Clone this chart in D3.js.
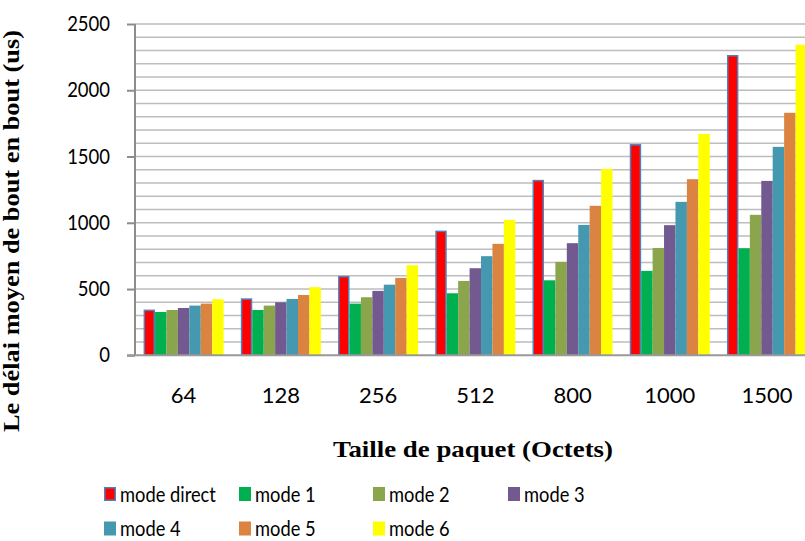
<!DOCTYPE html>
<html>
<head>
<meta charset="utf-8">
<script src="https://cdn.jsdelivr.net/npm/d3@7"></script>
<style>
  html, body { margin: 0; padding: 0; background: #fff; }
  svg { display: block; }
</style>
</head>
<body>
<svg id="chart" width="805" height="541"></svg>
<script>
// Packet sizes (octets)
const categories = ["64", "128", "256", "512", "800", "1000", "1500"];

// Mean end-to-end delay (us) per mode
const seriesNames = ["mode direct", "mode 1", "mode 2", "mode 3", "mode 4", "mode 5", "mode 6"];
const modeDirect = [345, 430, 599, 941, 1324, 1594, 2266];
const mode1 = [327, 342, 390, 468, 566, 637, 808];
const mode2 = [342, 375, 438, 561, 705, 810, 1060];
const mode3 = [357, 400, 486, 657, 846, 982, 1316];
const mode4 = [375, 425, 533, 748, 984, 1158, 1573];
const mode5 = [390, 455, 584, 841, 1128, 1329, 1830];
const mode6 = [423, 514, 680, 1022, 1407, 1671, 2344];
const yTicks = [0, 500, 1000, 1500, 2000, 2500];

const seriesValues = [modeDirect, mode1, mode2, mode3, mode4, mode5, mode6];
const colors = ["#ff0000", "#00b050", "#8aa54b", "#725990", "#4498b0", "#db8340", "#ffff00"];

const svg = d3.select("#chart");
const plotLeft = 135, plotRight = 815.6, plotTop = 24, plotBottom = 355.3;

const x = d3.scaleBand().domain(categories).range([plotLeft, plotRight])
  .paddingInner(0.177).paddingOuter(0.0885);
const xs = d3.scaleBand().domain(seriesNames).range([0, x.bandwidth()]);
const y = d3.scaleLinear().domain([0, 2500]).range([plotBottom, plotTop]);

// Gridlines every 100 us
const grid = d3.range(100, 2501, 100);
svg.append("g").selectAll("line").data(grid).join("line")
  .attr("x1", plotLeft).attr("x2", 805)
  .attr("y1", d => y(d)).attr("y2", d => y(d))
  .attr("stroke", "#bdbdbd").attr("stroke-width", 1.6);

// Bars
const groups = svg.append("g").selectAll("g").data(categories).join("g")
  .attr("transform", d => `translate(${x(d)},0)`);
groups.selectAll("rect")
  .data((c, i) => seriesNames.map((s, k) => ({ s, k, v: seriesValues[k][i] })))
  .join("rect")
  .attr("x", d => xs(d.s) + (d.k === 0 ? 0.75 : 0))
  .attr("width", d => xs.bandwidth() - (d.k === 0 ? 1.5 : 0))
  .attr("y", d => y(d.v) + (d.k === 0 ? 0.75 : 0))
  .attr("height", d => plotBottom - y(d.v) - (d.k === 0 ? 0.75 : 0))
  .attr("fill", d => colors[d.k])
  .attr("stroke", d => d.k === 0 ? "#4f81bd" : "none")
  .attr("stroke-width", 1.5);

// Axes
const yAxis = d3.axisLeft(y).tickValues(yTicks).tickFormat(d3.format("d"))
  .tickSize(8).tickPadding(17);
const gy = svg.append("g").attr("transform", `translate(${plotLeft},0)`).call(yAxis);
gy.select(".domain").attr("stroke", "#8c8c8c").attr("stroke-width", 2)
  .attr("d", `M0,${plotTop}V${plotBottom}`);
gy.selectAll(".tick line").attr("stroke", "#8c8c8c").attr("stroke-width", 2);
gy.selectAll(".tick text").attr("font-family", "Lato, 'Open Sans', sans-serif")
  .attr("font-size", 18.5).attr("fill", "#000")
  .attr("transform", "scale(1,1.12)");

const xAxis = d3.axisBottom(x).tickSize(0).tickPadding(32);
const gx = svg.append("g").attr("transform", `translate(0,${plotBottom})`).call(xAxis);
gx.select(".domain").attr("stroke", "#999").attr("stroke-width", 2)
  .attr("d", `M${plotLeft - 8},0H805`);
gx.selectAll(".tick text").attr("font-family", "Lato, 'Open Sans', sans-serif")
  .attr("font-size", 22).attr("fill", "#000");

// Axis titles
svg.append("text")
  .attr("transform", "translate(19,231) rotate(-90)")
  .attr("text-anchor", "middle")
  .attr("font-family", "'Liberation Serif', 'Times New Roman', serif")
  .attr("font-weight", "bold").attr("font-size", 22.5)
  .attr("textLength", 402).attr("lengthAdjust", "spacingAndGlyphs")
  .text("Le délai moyen de bout en bout (us)");

svg.append("text")
  .attr("x", 473).attr("y", 457)
  .attr("text-anchor", "middle")
  .attr("font-family", "'Liberation Serif', 'Times New Roman', serif")
  .attr("font-weight", "bold").attr("font-size", 23)
  .attr("textLength", 280).attr("lengthAdjust", "spacingAndGlyphs")
  .text("Taille de paquet (Octets)");

// Legend
const legendPos = [
  [104, 494], [239, 494], [373, 494], [508, 494],
  [104, 528.5], [239, 528.5], [373, 528.5]
];
const legend = svg.append("g").selectAll("g").data(seriesNames).join("g")
  .attr("transform", (d, i) => `translate(${legendPos[i][0]},${legendPos[i][1]})`);
legend.append("rect")
  .attr("x", (d, i) => i === 0 ? 0.75 : 0).attr("y", (d, i) => i === 0 ? -6.25 : -7)
  .attr("width", (d, i) => i === 0 ? 10.5 : 12).attr("height", (d, i) => i === 0 ? 12.5 : 14)
  .attr("fill", (d, i) => colors[i])
  .attr("stroke", (d, i) => i === 0 ? "#4f81bd" : "none").attr("stroke-width", 1.5);
legend.append("text")
  .attr("x", 16).attr("dy", "0.35em")
  .attr("transform", "scale(1,1.2)")
  .attr("font-family", "Lato, 'Open Sans', sans-serif")
  .attr("font-size", 18.3).attr("fill", "#000")
  .text(d => d);
</script>
</body>
</html>
